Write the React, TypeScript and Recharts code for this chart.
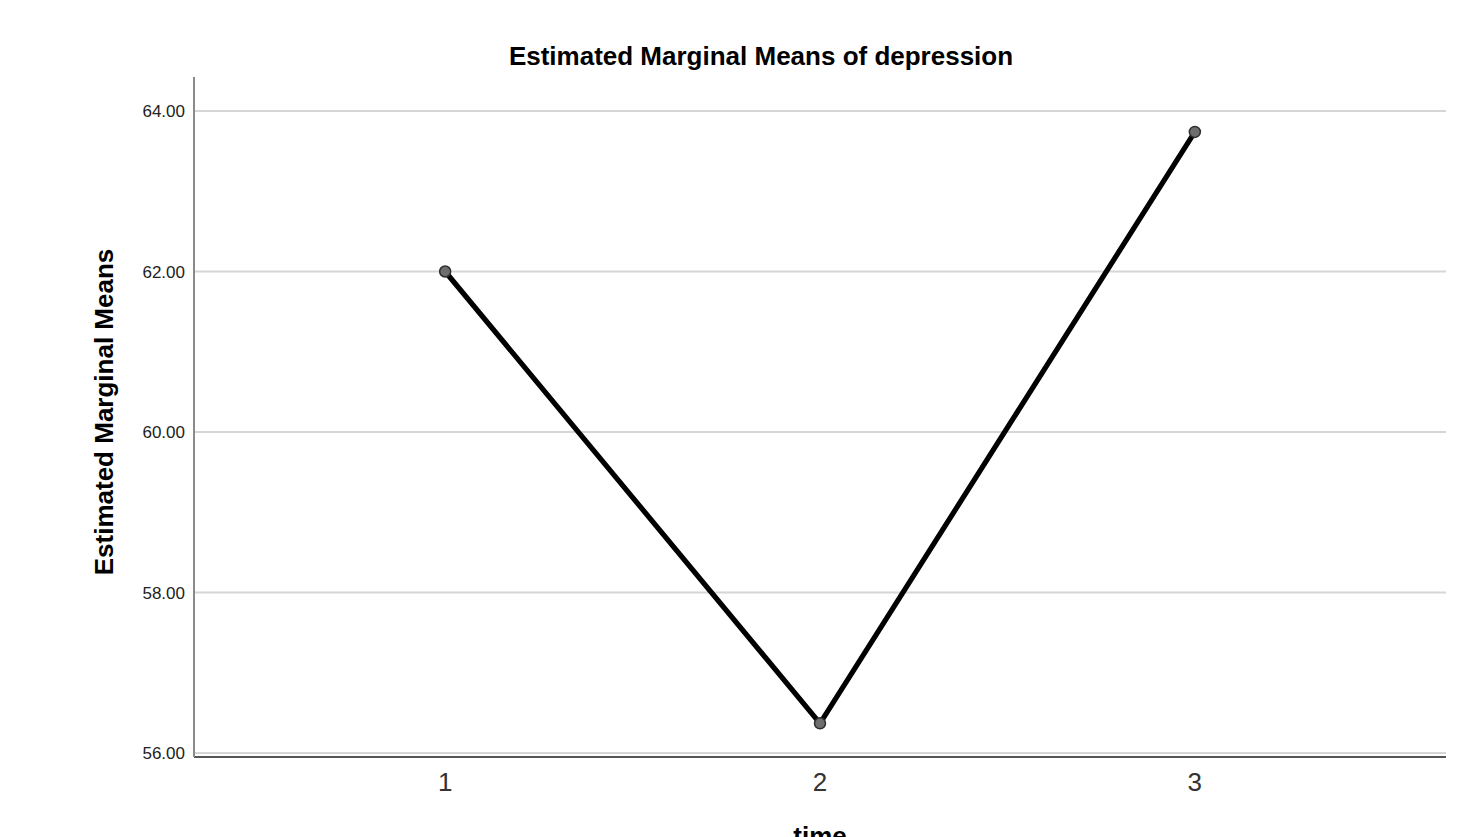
import { LineChart, Line, XAxis, YAxis, CartesianGrid } from "recharts";

const TIMES = [1, 2, 3];
const MEANS = [62.0, 56.37, 63.74];
const Y_TICKS = [56, 58, 60, 62, 64];

const FONT = "'Liberation Sans', Arial, sans-serif";

const rows = TIMES.map((t, i) => ({ time: t, mean: MEANS[i] }));

export default function App() {
  return (
    <div style={{ width: 1459, height: 829, overflow: "hidden", fontFamily: FONT }}>
      <LineChart
        width={1459}
        height={860}
        data={rows}
        margin={{ top: 69, right: 21, bottom: 0, left: 0 }}
      >
        <CartesianGrid
          horizontal
          vertical={false}
          horizontalValues={Y_TICKS}
          stroke="#d6d6d6"
          strokeWidth={2}
        />
        <XAxis
          dataKey="time"
          type="number"
          domain={[0.33, 3.67]}
          ticks={TIMES}
          height={111}
          tickLine={false}
          tickSize={0}
          tickMargin={16}
          axisLine={{ stroke: "#555", strokeWidth: 2 }}
          tick={{ fontSize: 26, fill: "#333", fontFamily: FONT }}
          label={{
            value: "time",
            position: "insideBottom",
            offset: 23,
            style: { fontSize: 26, fontWeight: "bold", fill: "#000", fontFamily: FONT },
          }}
        />
        <YAxis
          dataKey="mean"
          type="number"
          domain={[55.95, 64.424]}
          ticks={Y_TICKS}
          width={186}
          tickLine={false}
          tickSize={0}
          tickMargin={9}
          axisLine={{ stroke: "#8a8a8a", strokeWidth: 2 }}
          tick={{ fontSize: 17, fill: "#222", fontFamily: FONT }}
          tickFormatter={(v: number) => v.toFixed(2)}
          allowDataOverflow
        />
        <Line
          dataKey="mean"
          stroke="#000"
          strokeWidth={5.2}
          dot={{ r: 5.5, fill: "#6e6e6e", stroke: "#2e2e2e", strokeWidth: 1.5 }}
          activeDot={false}
          isAnimationActive={false}
        />
        <text
          x={753}
          y={57}
          textAnchor="middle"
          style={{ fontSize: 26, fontWeight: "bold", fill: "#000", fontFamily: FONT }}
        >
          Estimated Marginal Means of depression
        </text>
        <text
          transform="translate(104.5, 404) rotate(-90)"
          textAnchor="middle"
          style={{ fontSize: 26, fontWeight: "bold", fill: "#000", fontFamily: FONT }}
        >
          Estimated Marginal Means
        </text>
      </LineChart>
    </div>
  );
}
